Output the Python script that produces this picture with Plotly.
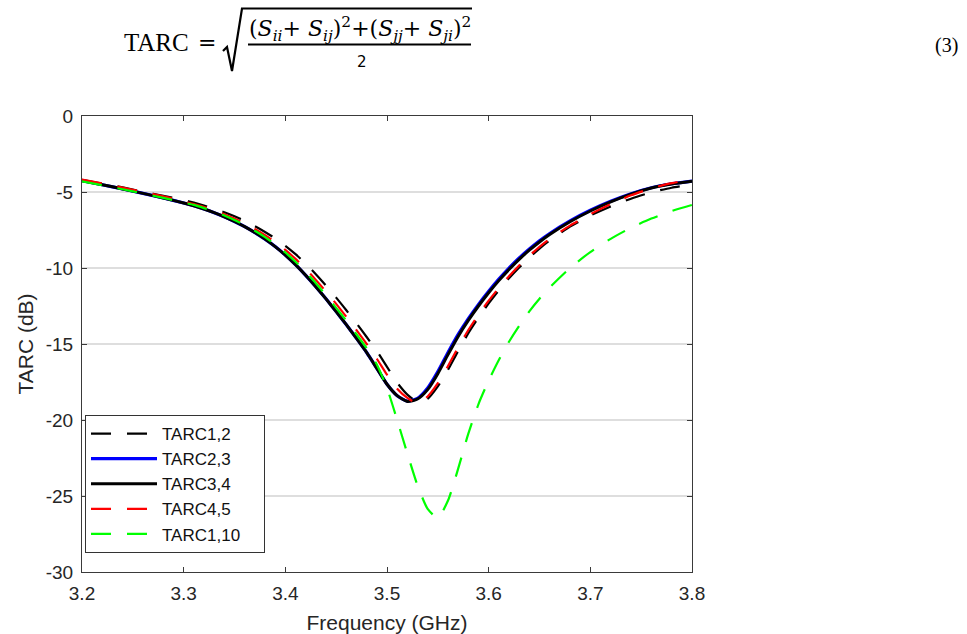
import plotly.graph_objects as go

# ---------------- data ----------------
freq = [3.20, 3.22, 3.24, 3.26, 3.28,
        3.30, 3.31, 3.32, 3.33, 3.34, 3.35, 3.36, 3.37, 3.38, 3.39,
        3.40, 3.41, 3.42, 3.43, 3.44, 3.45, 3.46, 3.47, 3.48, 3.49,
        3.50, 3.51, 3.52, 3.53, 3.54, 3.55, 3.56, 3.57, 3.58, 3.59,
        3.60, 3.61, 3.62, 3.63, 3.64, 3.65, 3.66,
        3.68, 3.70, 3.72, 3.74, 3.76, 3.78, 3.80]

tarc_12 = [-4.20, -4.45, -4.70, -4.98, -5.25,
           -5.53, -5.70, -5.89, -6.10, -6.33, -6.60, -6.90, -7.25, -7.63, -8.05,
           -8.54, -9.09, -9.71, -10.41, -11.16, -11.95, -12.78, -13.64, -14.54, -15.46,
           -16.50, -17.55, -18.33, -18.80, -18.60, -17.79, -16.70, -15.46, -14.29, -13.26,
           -12.33, -11.47, -10.68, -9.97, -9.31, -8.72, -8.19,
           -7.28, -6.55, -5.95, -5.44, -5.02, -4.72, -4.52]

tarc_23 = [-4.25, -4.52, -4.80, -5.09, -5.39,
           -5.72, -5.91, -6.12, -6.36, -6.63, -6.94, -7.28, -7.67, -8.10, -8.59,
           -9.15, -9.78, -10.48, -11.23, -12.03, -12.87, -13.73, -14.63, -15.56, -16.60,
           -17.65, -18.40, -18.76, -18.58, -17.90, -16.82, -15.56, -14.37, -13.33, -12.39,
           -11.53, -10.73, -10.00, -9.34, -8.75, -8.21, -7.73,
           -6.90, -6.20, -5.61, -5.11, -4.72, -4.46, -4.28]

tarc_34 = [-4.25, -4.52, -4.80, -5.09, -5.39,
           -5.72, -5.91, -6.12, -6.36, -6.63, -6.94, -7.28, -7.67, -8.10, -8.59,
           -9.15, -9.78, -10.48, -11.23, -12.03, -12.87, -13.73, -14.63, -15.56, -16.60,
           -17.65, -18.40, -18.78, -18.62, -18.00, -16.95, -15.70, -14.50, -13.45, -12.50,
           -11.63, -10.83, -10.10, -9.43, -8.83, -8.29, -7.80,
           -6.96, -6.25, -5.65, -5.14, -4.74, -4.48, -4.30]

tarc_45 = [-4.18, -4.44, -4.71, -4.99, -5.28,
           -5.62, -5.80, -5.99, -6.21, -6.46, -6.75, -7.07, -7.43, -7.84, -8.29,
           -8.81, -9.40, -10.06, -10.78, -11.55, -12.36, -13.21, -14.09, -15.00, -15.97,
           -17.02, -17.95, -18.55, -18.90, -18.45, -17.58, -16.45, -15.22, -14.08, -13.07,
           -12.15, -11.31, -10.54, -9.83, -9.19, -8.61, -8.09,
           -7.21, -6.46, -5.80, -5.22, -4.76, -4.42, -4.16]

tarc_110 = [-4.30, -4.56, -4.82, -5.10, -5.39,
            -5.70, -5.85, -6.06, -6.29, -6.54, -6.84, -7.18, -7.55, -7.97, -8.44,
            -8.98, -9.59, -10.27, -11.00, -11.79, -12.62, -13.47, -14.36, -15.28, -16.35,
            -17.90, -20.00, -22.20, -24.30, -25.85, -26.45, -25.30, -23.20, -20.90, -18.95,
            -17.40, -16.05, -14.85, -13.80, -12.85, -12.02, -11.28,
            -10.00, -8.95, -8.08, -7.35, -6.75, -6.25, -5.85]

series_names = ["TARC1,2", "TARC2,3", "TARC3,4", "TARC4,5", "TARC1,10"]
series_values = [tarc_12, tarc_23, tarc_34, tarc_45, tarc_110]

x_tick_vals = [3.2, 3.3, 3.4, 3.5, 3.6, 3.7, 3.8]
x_tick_text = ["3.2", "3.3", "3.4", "3.5", "3.6", "3.7", "3.8"]
y_tick_vals = [0, -5, -10, -15, -20, -25, -30]
y_tick_text = ["0", "-5", "-10", "-15", "-20", "-25", "-30"]

# ---------------- styles ----------------
DASH = "20px,16px"
styles = [
    dict(color="#000000", width=2.2, dash=DASH),
    dict(color="#0000ff", width=3.2, dash="solid"),
    dict(color="#000000", width=3.0, dash="solid"),
    dict(color="#ff0000", width=2.2, dash=DASH),
    dict(color="#00ff00", width=2.2, dash=DASH),
]
LEGEND_PAD = "\u00a0" * 4   # widens the legend box (layout only)

W, H = 967, 634
ML, MR, MT, MB = 82, 275, 116, 62
PW, PH = W - ML - MR, H - MT - MB


def px(xp):
    return (xp - ML) / PW


def py(yp):
    return (H - MB - yp) / PH


fig = go.Figure()
for i, (name, vals, st) in enumerate(zip(series_names, series_values, styles)):
    fig.add_trace(go.Scatter(
        x=freq, y=vals, name=name + LEGEND_PAD, mode="lines",
        line=dict(color=st["color"], width=st["width"], dash=st["dash"],
                  shape="spline", smoothing=0.6),
        legendgroup=f"g{i}",
    ))

FONT = "Liberation Sans, Arial, Helvetica, sans-serif"
SERIF = "Liberation Serif, Times New Roman, serif"
AX = "#3a3a3a"

fig.update_layout(
    width=W, height=H,
    margin=dict(l=ML, r=MR, t=MT, b=MB, autoexpand=False),
    paper_bgcolor="white", plot_bgcolor="white",
    font=dict(family=FONT, color="#262626"),
    showlegend=True,
    legend=dict(
        x=px(85), y=py(415), xanchor="left", yanchor="top",
        bgcolor="white", bordercolor="#333333", borderwidth=1,
        font=dict(family=FONT, size=17, color="#111111"),
        itemwidth=66, tracegroupgap=0, traceorder="grouped",
    ),
    xaxis=dict(
        range=[3.2, 3.8], tickmode="array", tickvals=x_tick_vals, ticktext=x_tick_text,
        ticks="inside", ticklen=5, tickcolor=AX, showline=True, linecolor=AX, linewidth=1,
        mirror="ticks", showgrid=False, zeroline=False,
        tickfont=dict(size=19, color="#262626"), ticklabelstandoff=4,
        title=dict(text="Frequency (GHz)", font=dict(size=21, color="#262626"), standoff=12),
        automargin=False,
    ),
    yaxis=dict(
        range=[-30, 0], tickmode="array", tickvals=y_tick_vals, ticktext=y_tick_text,
        ticks="inside", ticklen=5, tickcolor=AX, showline=True, linecolor=AX, linewidth=1,
        mirror="ticks", showgrid=True, gridcolor="#dedede", gridwidth=1.5, zeroline=False,
        tickfont=dict(size=19, color="#262626"), ticklabelstandoff=4,
        title=dict(text="TARC (dB)", font=dict(size=21, color="#262626"), standoff=6),
        automargin=False,
    ),
)

# ---------------- equation (3) above the chart ----------------
anns = [
    dict(text="TARC", x=px(156.5), y=py(42), font=dict(family=SERIF, size=25, color="black")),
    dict(text="=", x=px(206.5), y=py(43), font=dict(family="DejaVu Serif, serif", size=22, color="black")),
    dict(text="(<i>S</i><sub><i>ii</i></sub>+ <i>S</i><sub><i>ij</i></sub>)<sup>2</sup>+"
              "(<i>S</i><sub><i>jj</i></sub>+ <i>S</i><sub><i>ji</i></sub>)<sup>2</sup>",
         x=px(359.5), y=py(29), font=dict(family="DejaVu Serif, serif", size=22, color="black")),
    dict(text="2", x=px(361.5), y=py(62), font=dict(family="DejaVu Sans, sans-serif", size=15, color="black")),
    dict(text="(3)", x=px(946), y=py(45), font=dict(family=SERIF, size=20, color="black")),
]
for a in anns:
    fig.add_annotation(xref="paper", yref="paper", showarrow=False,
                       xanchor="center", yanchor="middle", **a)

rad = (f"M {px(223)},{py(51)} L {px(227)},{py(47)} L {px(232)},{py(71)} "
       f"L {px(242)},{py(8.5)} L {px(472)},{py(8.5)}")
fig.add_shape(type="path", path=rad, xref="paper", yref="paper",
              line=dict(color="black", width=2.2))
fig.add_shape(type="line", xref="paper", yref="paper",
              x0=px(248), x1=px(471), y0=py(44.5), y1=py(44.5),
              line=dict(color="black", width=2.2))

fig.write_html("out.html", config={"displayModeBar": False},
               post_script="document.body.style.margin='0px';")
